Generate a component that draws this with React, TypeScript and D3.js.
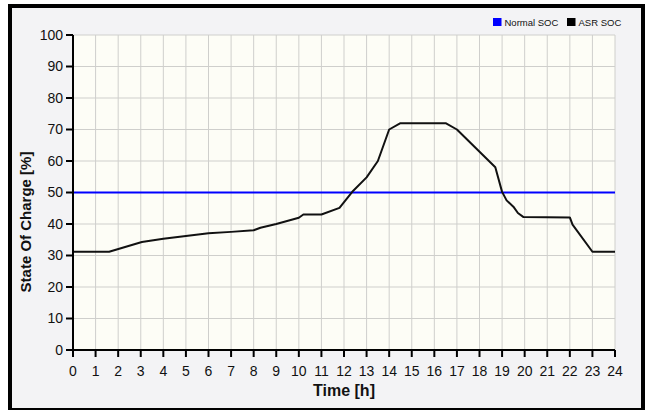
import React from "react";
import * as d3 from "d3";

const hours = [0, 1.6, 3.05, 4, 5, 6, 7, 8, 8.3, 9, 10, 10.2, 11, 11.8, 12.4, 13, 13.5, 14, 14.5, 16.5, 17, 18.7, 19, 19.2, 19.5, 19.7, 19.95, 22, 22.12, 23, 24];
const asrSoc = [31.2, 31.2, 34.3, 35.3, 36.2, 37.1, 37.5, 38, 38.8, 40, 42, 43, 43, 45.1, 50.5, 54.8, 60, 70, 72, 72, 70, 58, 50.2, 47.5, 45.5, 43.5, 42.2, 42.1, 39.8, 31.2, 31.2];
const normalSoc = 50;
const xTicks = d3.range(0, 25, 1);
const yTicks = d3.range(0, 101, 10);
const legendLabels = ["Normal SOC", "ASR SOC"];
const legendColors = ["#0000ff", "#000000"];

export default function App() {
  const W = 647, H = 410;
  const left = 73, right = 615, top = 35, bottom = 350;
  const x = d3.scaleLinear().domain([0, 24]).range([left, right]);
  const y = d3.scaleLinear().domain([0, 100]).range([bottom, top]);
  const line = d3.line<number>().x((_, i) => x(hours[i])).y((d) => y(d));
  const font = "'Liberation Sans', Arial, sans-serif";
  return (
    <svg width={W} height={H} style={{ position: "fixed", left: 0, top: 0 }} fontFamily={font}>
      <rect x={0} y={0} width={W} height={H} fill="#ffffff" />
      <rect x={10} y={6} width={633} height={404} fill="#f3f3f5" stroke="#000" strokeWidth={4} />
      <rect x={left} y={top} width={right - left} height={bottom - top} fill="#fdfdf6" />
      {xTicks.map((t) => (
        <line key={"gx" + t} x1={x(t)} x2={x(t)} y1={top} y2={bottom} stroke="#cfcfcc" strokeWidth={1} />
      ))}
      {yTicks.map((t) => (
        <line key={"gy" + t} x1={left} x2={right} y1={y(t)} y2={y(t)} stroke="#cfcfcc" strokeWidth={1} />
      ))}
      <line x1={x(0)} x2={x(24)} y1={y(normalSoc)} y2={y(normalSoc)} stroke="#0000ff" strokeWidth={2} />
      <path d={line(asrSoc) || ""} fill="none" stroke="#111" strokeWidth={2} strokeLinejoin="round" />
      <line x1={left} x2={left} y1={top} y2={bottom + 1} stroke="#000" strokeWidth={2} />
      <line x1={left - 1} x2={right} y1={bottom} y2={bottom} stroke="#000" strokeWidth={2} />
      {yTicks.map((t) => (
        <g key={"ty" + t}>
          <line x1={left - 7} x2={left} y1={y(t)} y2={y(t)} stroke="#000" strokeWidth={2} />
          <text x={left - 10} y={y(t)} dy="0.35em" textAnchor="end" fontSize={14} fill="#111">{t}</text>
        </g>
      ))}
      {xTicks.map((t) => (
        <g key={"tx" + t}>
          <line x1={x(t)} x2={x(t)} y1={bottom} y2={bottom + 7} stroke="#000" strokeWidth={2} />
          <text x={x(t)} y={bottom + 26} textAnchor="middle" fontSize={14} fill="#111">{t}</text>
        </g>
      ))}
      <text x={(left + right) / 2} y={396} textAnchor="middle" fontSize={16} fontWeight="bold" fill="#111">Time [h]</text>
      <text transform="translate(31,222) rotate(-90)" textAnchor="middle" fontSize={15} fontWeight="bold" fill="#111">State Of Charge [%]</text>
      {legendLabels.map((lab, i) => {
        const lx = i === 0 ? 493 : 567;
        return (
          <g key={lab}>
            <rect x={lx} y={18} width={8.5} height={8} fill={legendColors[i]} />
            <text x={lx + 11.5} y={25.5} fontSize={9.5} fill="#111">{lab}</text>
          </g>
        );
      })}
    </svg>
  );
}
